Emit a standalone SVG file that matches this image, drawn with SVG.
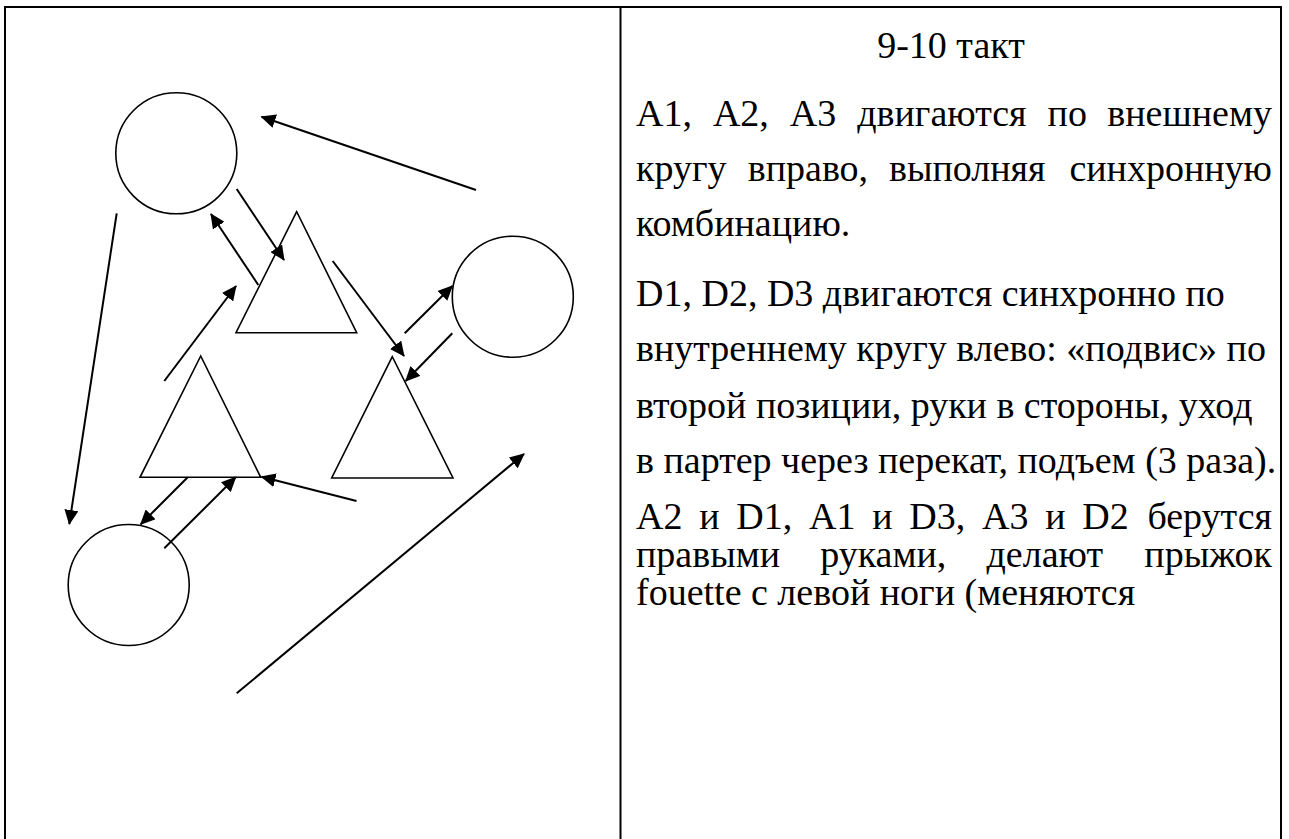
<svg xmlns="http://www.w3.org/2000/svg" width="1289" height="839" viewBox="0 0 1289 839">
<style>
.frame{fill:none;stroke:#000;stroke-width:2}
.shape{fill:none;stroke:#000;stroke-width:1.6}
.arr{fill:none;stroke:#000;stroke-width:2;marker-end:url(#ah)}
.t{font-family:"Liberation Serif","Times New Roman",serif;font-size:38px;fill:#000}
.e{text-anchor:end}
</style>
<defs>
<marker id="ah" markerUnits="userSpaceOnUse" markerWidth="16" markerHeight="14" refX="14" refY="7" orient="auto">
<path d="M0,0 L15,7 L0,14 z" fill="#000"/>
</marker>
</defs>
<rect x="0" y="0" width="1289" height="839" fill="#fff"/>
<g id="table">
<rect class="frame" x="5" y="7" width="1276" height="840"/>
<line class="frame" x1="620.5" y1="7" x2="620.5" y2="845"/>
</g>
<g id="circle-top"><circle class="shape" cx="176.3" cy="153.3" r="60.5"/></g>
<g id="circle-right"><circle class="shape" cx="512.8" cy="296.7" r="60.5"/></g>
<g id="circle-bottom"><circle class="shape" cx="128.7" cy="585" r="60.5"/></g>
<g id="triangle-top"><polygon class="shape" points="296.7,211.7 236,332.7 356.7,332.7"/></g>
<g id="triangle-left"><polygon class="shape" points="200.7,356 140,477.3 260.7,477.3"/></g>
<g id="triangle-right"><polygon class="shape" points="392.3,356.7 331.7,478 453,478"/></g>
<g id="connectors">
<line class="arr" x1="476" y1="190" x2="261.5" y2="116.7"/>
<line class="arr" x1="236.7" y1="189" x2="284" y2="260"/>
<line class="arr" x1="258.3" y1="285" x2="211" y2="214"/>
<line class="arr" x1="164.3" y1="381" x2="236" y2="286"/>
<line class="arr" x1="332.7" y1="261" x2="404" y2="356"/>
<line class="arr" x1="404.7" y1="333.3" x2="452.3" y2="286"/>
<line class="arr" x1="452.3" y1="333.3" x2="405.7" y2="381"/>
<line class="arr" x1="116.7" y1="213.3" x2="69.3" y2="524"/>
<line class="arr" x1="187.7" y1="477.3" x2="140.7" y2="524.3"/>
<line class="arr" x1="164.3" y1="548.3" x2="235.7" y2="477.3"/>
<line class="arr" x1="356.5" y1="501" x2="261.5" y2="476.7"/>
<line class="arr" x1="236.7" y1="693.3" x2="524" y2="454"/>
</g>
<g id="text">
<text class="t" x="951" y="58" text-anchor="middle">9-10 такт</text>
<text class="t" y="126"><tspan x="636">А1,</tspan><tspan x="712.9">А2,</tspan><tspan x="789.8">А3</tspan><tspan x="857.2">двигаются</tspan><tspan x="1047.6">по</tspan></text>
<text class="t e" x="1272" y="126">внешнему</text>
<text class="t" y="181"><tspan x="636">кругу</tspan><tspan x="747.8">вправо,</tspan><tspan x="889">выполняя</tspan></text>
<text class="t e" x="1272" y="181">синхронную</text>
<text class="t" x="636" y="236">комбинацию.</text>
<text class="t" x="636" y="306">D1, D2, D3 двигаются синхронно по</text>
<text class="t" x="636" y="361">внутреннему кругу влево: «подвис» по</text>
<text class="t" x="636" y="418">второй позиции, руки в стороны, уход</text>
<text class="t" x="636" y="473">в партер через перекат, подъем (3 раза).</text>
<text class="t" y="529"><tspan x="636">А2</tspan><tspan x="699.2">и</tspan><tspan x="736.3">D1,</tspan><tspan x="809">А1</tspan><tspan x="872.2">и</tspan><tspan x="909.3">D3,</tspan><tspan x="982">А3</tspan><tspan x="1045.2">и</tspan><tspan x="1082.3">D2</tspan></text>
<text class="t e" x="1272" y="529">берутся</text>
<text class="t" y="567"><tspan x="636">правыми</tspan><tspan x="820.2">руками,</tspan><tspan x="986.5">делают</tspan></text>
<text class="t e" x="1272" y="567">прыжок</text>
<text class="t" x="636" y="605">fouette с левой ноги (меняются</text>
</g>
</svg>
